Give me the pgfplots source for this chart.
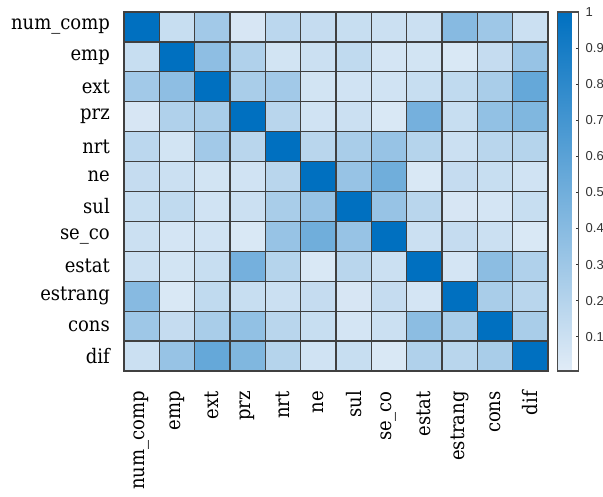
\documentclass[border=0pt]{standalone}
\usepackage{fontspec}
\setmainfont{DejaVu Serif Condensed}
\newfontfamily\arialf{Liberation Sans}
\newcommand{\cb}[1]{{\arialf\fontsize{13}{14}\selectfont #1}}
\usepackage{pgfplots}
\pgfplotsset{compat=1.18}
\pgfplotsset{colormap={cb}{rgb255=(225,236,247) rgb255=(0,112,192)}}
\begin{document}
\begin{tikzpicture}
\useasboundingbox (0,0) rectangle (603pt,497pt);
\begin{axis}[
  at={(124pt,126pt)}, anchor=south west,
  scale only axis, width=424pt, height=359pt,
  xmin=-0.5, xmax=11.5, ymin=-0.5, ymax=11.5, y dir=reverse,
  enlargelimits=false,
  colormap name=cb, point meta min=0.005, point meta max=1,
  xtick={0,...,11}, ytick={0,...,11},
  xticklabels={num\_comp,emp,ext,prz,nrt,ne,sul,se\_co,estat,estrang,cons,dif},
  yticklabels={num\_comp,emp,ext,prz,nrt,ne,sul,se\_co,estat,estrang,cons,dif},
  xticklabel style={rotate=90, anchor=east, inner sep=0pt, font=\fontsize{20}{21}\selectfont},
  yticklabel style={anchor=east, inner sep=0pt, font=\fontsize{20}{21}\selectfont},
  xticklabel shift=20pt, yticklabel shift=14pt,
  major tick length=0pt,
  minor xtick={-0.5,0.5,1.5,2.5,3.5,4.5,5.5,6.5,7.5,8.5,9.5,10.5,11.5},
  minor ytick={-0.5,0.5,1.5,2.5,3.5,4.5,5.5,6.5,7.5,8.5,9.5,10.5,11.5},
  minor tick length=0pt,
  xminorgrids, yminorgrids,
  minor grid style={black!75, line width=1.3pt},
  axis on top,
  axis line style={black!75, line width=1.3pt},
  colorbar right,
  colorbar style={
    at={(parent axis.north east)}, anchor=north west, xshift=1pt,
    scale only axis, width=21pt, height=359pt,
    ytick={0.1,0.2,0.3,0.4,0.5,0.6,0.7,0.8,0.9,1},
    yticklabels={\cb{0.1},\cb{0.2},\cb{0.3},\cb{0.4},\cb{0.5},\cb{0.6},\cb{0.7},\cb{0.8},\cb{0.9},\cb{1}},
    yticklabel style={text=black!80, inner sep=0pt, anchor=west},
    yticklabel shift=7pt,
    ytick pos=right, yticklabel pos=right,
    tick align=inside, major tick length=2.5pt,
    major tick style={black!80, line width=0.8pt},
    axis line style={black!70, line width=1.2pt},
  },
]
\addplot[matrix plot*, mesh/cols=12, point meta=explicit] table[meta=C, row sep=\\]{
x y C\\
0 0 1\\ 1 0 0.12\\ 2 0 0.28\\ 3 0 0.05\\ 4 0 0.17\\ 5 0 0.13\\ 6 0 0.12\\ 7 0 0.10\\ 8 0 0.10\\ 9 0 0.40\\ 10 0 0.30\\ 11 0 0.10\\
0 1 0.12\\ 1 1 1\\ 2 1 0.37\\ 3 1 0.22\\ 4 1 0.07\\ 5 1 0.10\\ 6 1 0.15\\ 7 1 0.06\\ 8 1 0.07\\ 9 1 0.04\\ 10 1 0.13\\ 11 1 0.33\\
0 2 0.28\\ 1 2 0.37\\ 2 2 1\\ 3 2 0.25\\ 4 2 0.28\\ 5 2 0.07\\ 6 2 0.08\\ 7 2 0.08\\ 8 2 0.12\\ 9 2 0.15\\ 10 2 0.25\\ 11 2 0.55\\
0 3 0.05\\ 1 3 0.22\\ 2 3 0.25\\ 3 3 1\\ 4 3 0.18\\ 5 3 0.08\\ 6 3 0.10\\ 7 3 0.04\\ 8 3 0.48\\ 9 3 0.12\\ 10 3 0.35\\ 11 3 0.43\\
0 4 0.17\\ 1 4 0.07\\ 2 4 0.28\\ 3 4 0.18\\ 4 4 1\\ 5 4 0.18\\ 6 4 0.25\\ 7 4 0.33\\ 8 4 0.20\\ 9 4 0.10\\ 10 4 0.18\\ 11 4 0.20\\
0 5 0.13\\ 1 5 0.10\\ 2 5 0.07\\ 3 5 0.08\\ 4 5 0.18\\ 5 5 1\\ 6 5 0.33\\ 7 5 0.50\\ 8 5 0.04\\ 9 5 0.13\\ 10 5 0.12\\ 11 5 0.08\\
0 6 0.12\\ 1 6 0.15\\ 2 6 0.08\\ 3 6 0.10\\ 4 6 0.25\\ 5 6 0.33\\ 6 6 1\\ 7 6 0.33\\ 8 6 0.18\\ 9 6 0.05\\ 10 6 0.06\\ 11 6 0.12\\
0 7 0.10\\ 1 7 0.06\\ 2 7 0.08\\ 3 7 0.04\\ 4 7 0.33\\ 5 7 0.50\\ 6 7 0.33\\ 7 7 1\\ 8 7 0.10\\ 9 7 0.13\\ 10 7 0.10\\ 11 7 0.04\\
0 8 0.10\\ 1 8 0.07\\ 2 8 0.12\\ 3 8 0.48\\ 4 8 0.20\\ 5 8 0.04\\ 6 8 0.18\\ 7 8 0.10\\ 8 8 1\\ 9 8 0.06\\ 10 8 0.38\\ 11 8 0.22\\
0 9 0.40\\ 1 9 0.04\\ 2 9 0.15\\ 3 9 0.12\\ 4 9 0.10\\ 5 9 0.13\\ 6 9 0.05\\ 7 9 0.13\\ 8 9 0.06\\ 9 9 1\\ 10 9 0.25\\ 11 9 0.18\\
0 10 0.30\\ 1 10 0.13\\ 2 10 0.25\\ 3 10 0.35\\ 4 10 0.18\\ 5 10 0.12\\ 6 10 0.06\\ 7 10 0.10\\ 8 10 0.38\\ 9 10 0.25\\ 10 10 1\\ 11 10 0.25\\
0 11 0.10\\ 1 11 0.33\\ 2 11 0.55\\ 3 11 0.43\\ 4 11 0.20\\ 5 11 0.08\\ 6 11 0.12\\ 7 11 0.04\\ 8 11 0.22\\ 9 11 0.18\\ 10 11 0.25\\ 11 11 1\\
};
\end{axis}
\end{tikzpicture}
\end{document}
